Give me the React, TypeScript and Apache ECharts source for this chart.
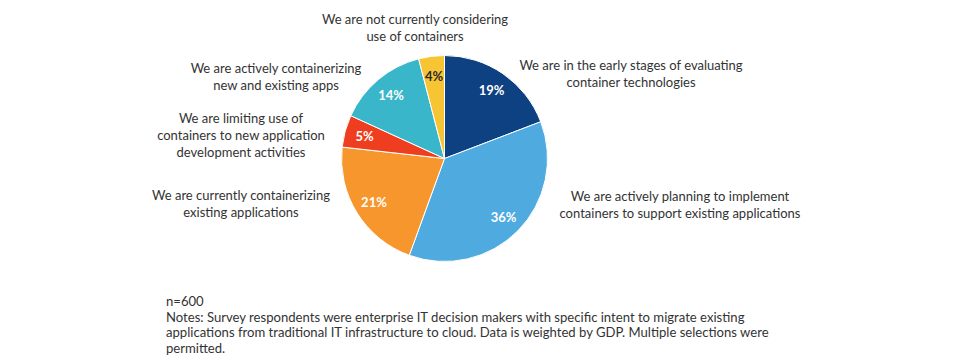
import React, { useEffect, useRef } from "react";
import * as echarts from "echarts";

const categories = [
  "We are in the early stages of evaluating\ncontainer technologies",
  "We are actively planning to implement\ncontainers to support existing applications",
  "We are currently containerizing\nexisting applications",
  "We are limiting use of\ncontainers to new application\ndevelopment activities",
  "We are actively containerizing\nnew and existing apps",
  "We are not currently considering\nuse of containers",
];
const values = [19, 36, 21, 5, 14, 4];
const colors = ["#0d4182", "#4eaadf", "#f8962e", "#ef3e1f", "#3ab6ca", "#f7c534"];
const pctTextColors = ["#ffffff", "#ffffff", "#ffffff", "#ffffff", "#ffffff", "#2a2a2a"];
const labelPos: [number, number][] = [
  [631, 73],
  [680, 204],
  [241, 203],
  [241, 135],
  [276, 76],
  [415, 27],
];
const notes = [
  "n=600",
  "Notes: Survey respondents were enterprise IT decision makers with specific intent to migrate existing",
  "applications from traditional IT infrastructure to cloud. Data is weighted by GDP. Multiple selections were",
  "permitted.",
];

const FONT = "Lato, 'Noto Sans', sans-serif";

export default function App() {
  const ref = useRef<HTMLDivElement>(null);
  useEffect(() => {
    if (!ref.current) return;
    const chart = echarts.init(ref.current, null, { renderer: "svg" });
    const center = [444.5, 158.5];
    const graphic: any[] = categories.map((c, i) => ({
      type: "text",
      x: labelPos[i][0],
      y: labelPos[i][1],
      style: {
        text: c,
        fill: "#333333",
        font: `13px ${FONT}`,
        align: "center",
        verticalAlign: "middle",
        lineHeight: 17,
      },
    }));
    notes.forEach((n, i) => {
      graphic.push({
        type: "text",
        x: 166,
        y: 301 + i * 15.6,
        style: {
          text: n,
          fill: "#333333",
          font: `13.1px ${FONT}`,
          align: "left",
          verticalAlign: "middle",
        },
      });
    });
    chart.setOption({
      animation: false,
      backgroundColor: "#ffffff",
      graphic,
      series: [
        {
          type: "pie",
          center,
          radius: [0, 103],
          startAngle: 90,
          clockwise: true,
          silent: true,
          label: { show: false },
          labelLine: { show: false },
          itemStyle: { borderColor: "#ffffff", borderWidth: 1 },
          data: values.map((v, i) => ({
            value: v,
            name: categories[i],
            itemStyle: { color: colors[i] },
          })),
        },
        {
          type: "pie",
          center,
          radius: [0, 160],
          startAngle: 90,
          clockwise: true,
          silent: true,
          z: 5,
          itemStyle: { color: "rgba(0,0,0,0)", borderWidth: 0 },
          labelLine: { show: false },
          label: {
            show: true,
            position: "inside",
            formatter: "{c}%",
            fontFamily: FONT,
            fontWeight: "bold",
            fontSize: 13,
          },
          data: values.map((v, i) => ({
            value: v,
            name: categories[i] + " pct",
            label: { color: pctTextColors[i] },
          })),
        },
      ],
    });
    return () => chart.dispose();
  }, []);
  return (
    <div
      ref={ref}
      style={{ position: "fixed", left: 0, top: 0, width: 960, height: 360 }}
    />
  );
}
